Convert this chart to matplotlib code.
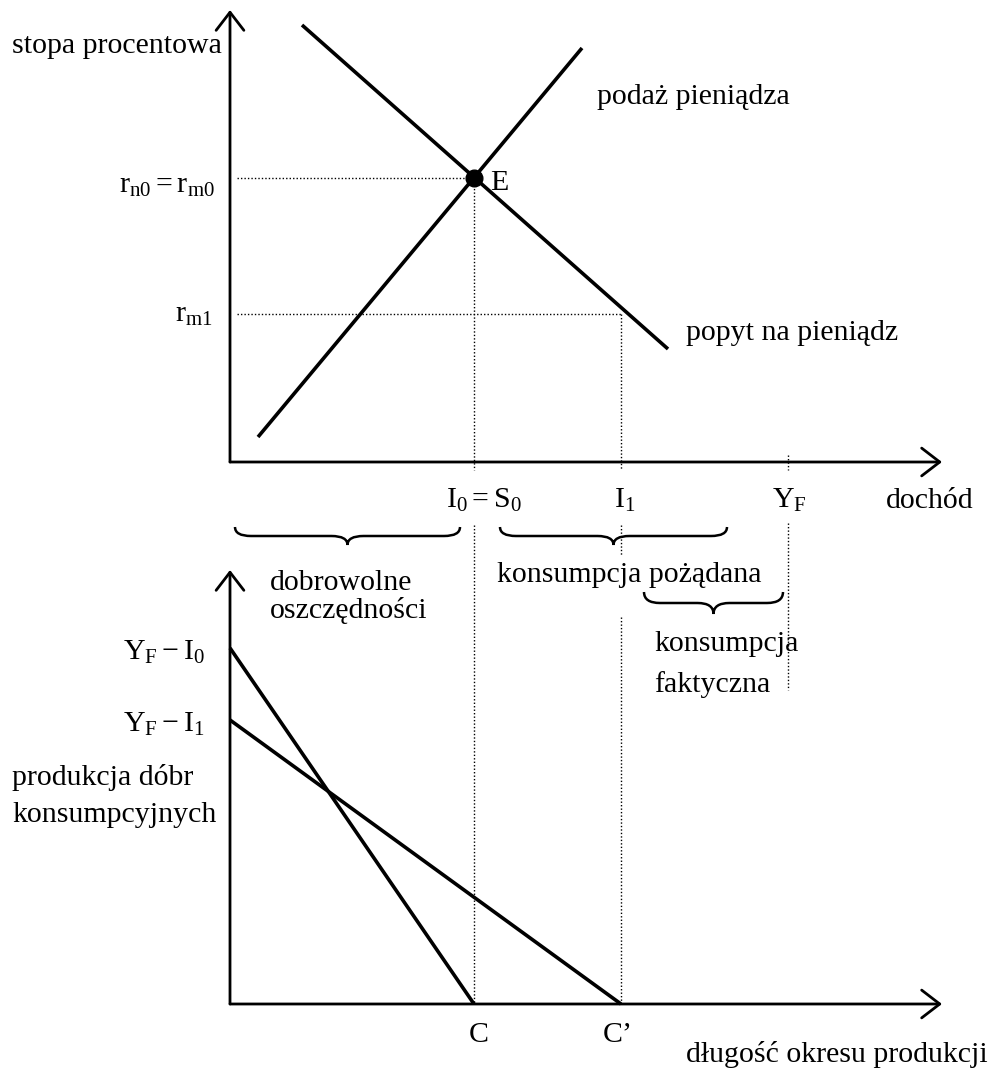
import matplotlib.pyplot as plt
from matplotlib.path import Path
from matplotlib.patches import PathPatch

plt.rcParams['font.family'] = ['Liberation Serif', 'DejaVu Serif']
plt.rcParams['mathtext.fontset'] = 'custom'
plt.rcParams['mathtext.rm'] = 'Liberation Serif'
plt.rcParams['mathtext.it'] = 'Liberation Serif'

# diagram coordinates (pixel-like, y grows downwards)
top_origin = (230, 462)
top_x_end = 942
top_y_end = 10
bot_origin = (230, 1004)
bot_x_end = 942
bot_y_end = 570

supply_x = [258, 582]
supply_y = [437, 48]
demand_x = [302, 668]
demand_y = [25, 349]
eq_point = (474, 178)

r_levels = [178, 314]
r_ends = [474, 621]

prod_steep_x = [230, 474]
prod_steep_y = [648, 1004]
prod_flat_x = [230, 621]
prod_flat_y = [720, 1004]

# (x, y_start, y_end) pieces of the dotted guides
guides_v = [(474, 178, 470), (474, 525, 1004),
            (621, 314, 470), (621, 525, 556), (621, 617, 1004),
            (788, 455, 470), (788, 523, 690)]

braces = [(235, 460, 527, 545), (500, 727, 527, 545), (644, 783, 592, 614)]

fs = 21.5

fig = plt.figure(figsize=(9.96, 10.68), dpi=100)
ax = fig.add_axes([0, 0, 1, 1])
ax.set_xlim(0, 996)
ax.set_ylim(1068, 0)
ax.axis('off')


def arrow(x0, y0, x1, y1):
    ax.annotate('', xy=(x1, y1), xytext=(x0, y0),
                arrowprops=dict(arrowstyle='->,head_length=0.65,head_width=0.5',
                                lw=2.0, color='black', shrinkA=0, shrinkB=0,
                                mutation_scale=20))


def brace(x0, x1, y0, y1):
    xm = (x0 + x1) / 2
    ymid = (y0 + y1) / 2
    r = 16
    verts = [(x0, y0), (x0, ymid), (x0 + r, ymid),
             (xm - r, ymid), (xm, ymid), (xm, y1),
             (xm, ymid), (xm + r, ymid),
             (x1 - r, ymid), (x1, ymid), (x1, y0)]
    codes = [Path.MOVETO, Path.CURVE3, Path.CURVE3,
             Path.LINETO, Path.CURVE3, Path.CURVE3,
             Path.CURVE3, Path.CURVE3,
             Path.LINETO, Path.CURVE3, Path.CURVE3]
    ax.add_patch(PathPatch(Path(verts, codes), fill=False, lw=1.8, color='black'))


# axes
arrow(top_origin[0], top_origin[1], top_origin[0], top_y_end)
arrow(top_origin[0], top_origin[1], top_x_end, top_origin[1])
arrow(bot_origin[0], bot_origin[1], bot_origin[0], bot_y_end)
arrow(bot_origin[0], bot_origin[1], bot_x_end, bot_origin[1])

# top panel curves
ax.plot(supply_x, supply_y, color='black', lw=2.6, solid_capstyle='butt')
ax.plot(demand_x, demand_y, color='black', lw=2.6, solid_capstyle='butt')
ax.plot(*eq_point, 'o', color='black', markersize=12, zorder=5)

# dotted guides
for y, xe in zip(r_levels, r_ends):
    ax.plot([237, xe], [y, y], color='black', lw=1, linestyle=(0, (1, 1.5)))
for x, ys, ye in guides_v:
    ax.plot([x, x], [ys, ye], color='black', lw=1, linestyle=(0, (1, 1.5)))

# lower panel lines
ax.plot(prod_steep_x, prod_steep_y, color='black', lw=2.6, solid_capstyle='butt')
ax.plot(prod_flat_x, prod_flat_y, color='black', lw=2.6, solid_capstyle='butt')

for b in braces:
    brace(*b)

# labels
ax.text(12, 53, 'stopa procentowa', fontsize=fs, va='baseline')
ax.text(597, 104, 'podaż pieniądza', fontsize=fs, va='baseline')
ax.text(490, 190, 'E', fontsize=fs, va='baseline')
ax.text(215, 193, r'$\mathrm{r_{n0} = r_{m0}}$', fontsize=fs, va='baseline', ha='right')
ax.text(213, 322, r'$\mathrm{r_{m1}}$', fontsize=fs, va='baseline', ha='right')
ax.text(686, 340, 'popyt na pieniądz', fontsize=fs, va='baseline')
ax.text(446, 508, r'$\mathrm{I_0 = S_0}$', fontsize=fs, va='baseline')
ax.text(614, 508, r'$\mathrm{I_1}$', fontsize=fs, va='baseline')
ax.text(772, 508, r'$\mathrm{Y_F}$', fontsize=fs, va='baseline')
ax.text(886, 508, 'dochód', fontsize=fs, va='baseline')
ax.text(270, 590, 'dobrowolne', fontsize=fs, va='baseline')
ax.text(270, 618, 'oszczędności', fontsize=fs, va='baseline')
ax.text(497, 582, 'konsumpcja pożądana', fontsize=fs, va='baseline')
ax.text(654, 651, 'konsumpcja', fontsize=fs, va='baseline')
ax.text(654, 692, 'faktyczna', fontsize=fs, va='baseline')
ax.text(205, 660, r'$\mathrm{Y_F - I_0}$', fontsize=fs, va='baseline', ha='right')
ax.text(205, 732, r'$\mathrm{Y_F - I_1}$', fontsize=fs, va='baseline', ha='right')
ax.text(12, 785, 'produkcja dóbr', fontsize=fs, va='baseline')
ax.text(12, 822, 'konsumpcyjnych', fontsize=fs, va='baseline')
ax.text(479, 1042, 'C', fontsize=fs, va='baseline', ha='center')
ax.text(603, 1042, 'C’', fontsize=fs, va='baseline')
ax.text(988, 1062, 'długość okresu produkcji', fontsize=fs, va='baseline', ha='right')

fig.savefig('out.png', dpi=100)
